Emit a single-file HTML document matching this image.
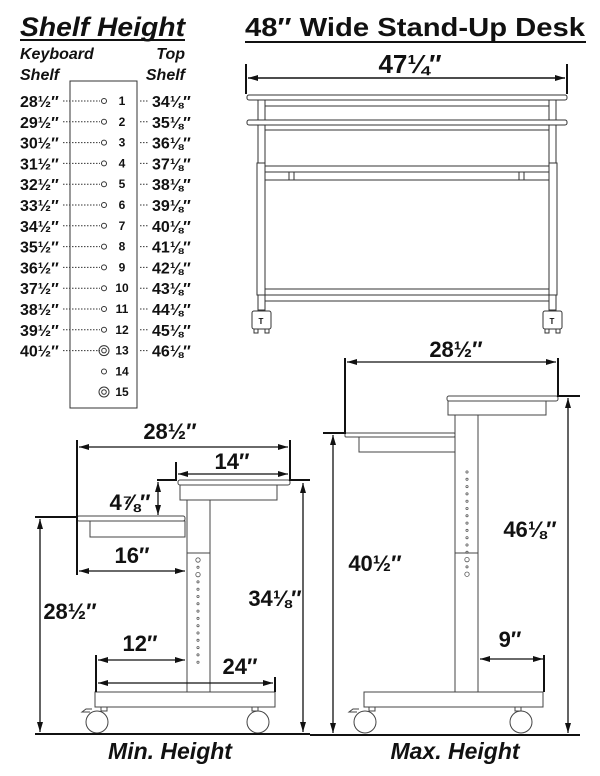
<!DOCTYPE html>
<html><head><meta charset="utf-8"><style>
body{margin:0;background:#fff}
svg{display:block}
text{font-family:"Liberation Sans",Arial,sans-serif;font-weight:bold;fill:#111}
</style></head><body>
<svg width="600" height="776" viewBox="0 0 600 776" xmlns="http://www.w3.org/2000/svg">
<defs>
<marker id="a" viewBox="0 0 10 6" refX="10" refY="3" markerWidth="10" markerHeight="6" orient="auto-start-reverse" markerUnits="userSpaceOnUse"><path d="M0,0L10,3L0,6z" fill="#111"/></marker>
</defs>
<g>
<text x="20" y="36" font-size="27" font-style="italic" textLength="165" lengthAdjust="spacingAndGlyphs">Shelf Height</text>
<line x1="20" y1="40" x2="185" y2="40" stroke="#111" stroke-width="2"/>
<text x="20" y="59" font-size="16" font-style="italic">Keyboard</text>
<text x="20" y="80" font-size="16" font-style="italic">Shelf</text>
<text x="185" y="59" font-size="16" font-style="italic" text-anchor="end">Top</text>
<text x="185" y="80" font-size="16" font-style="italic" text-anchor="end">Shelf</text>
<rect x="70" y="81" width="67" height="327" fill="none" stroke="#333" stroke-width="1"/>
</g>
<g font-size="16" id="rows"></g>
<g fill="none" stroke="#333" stroke-width="1">
<rect x="247" y="95" width="320" height="5" rx="2"/>
<rect x="247" y="120" width="320" height="5" rx="2"/>
<line x1="265" y1="106" x2="549" y2="106"/>
<line x1="265" y1="130" x2="549" y2="130"/>
<rect x="258" y="100" width="7" height="20"/><rect x="549" y="100" width="7" height="20"/>
<rect x="258" y="125" width="7" height="38"/><rect x="549" y="125" width="7" height="38"/>
<rect x="257" y="163" width="8" height="132"/><rect x="549" y="163" width="8" height="132"/>
<rect x="265" y="166" width="284" height="14"/>
<line x1="265" y1="172" x2="549" y2="172"/>
<rect x="289" y="172" width="5" height="8"/><rect x="519" y="172" width="5" height="8"/>
<rect x="265" y="289" width="284" height="12"/>
<line x1="265" y1="295" x2="549" y2="295"/>
<rect x="258" y="295" width="7" height="15"/><rect x="549" y="295" width="7" height="15"/>
<rect x="252" y="311" width="19" height="18" rx="2"/><rect x="543" y="311" width="19" height="18" rx="2"/>
<path d="M254,329v4h4v-4M265,329v4h4v-4M545,329v4h4v-4M556,329v4h4v-4"/>
</g>
<text x="261" y="324" font-size="8" text-anchor="middle">T</text>
<text x="552" y="324" font-size="8" text-anchor="middle">T</text>
<text x="245" y="36" font-size="26" textLength="340" lengthAdjust="spacingAndGlyphs">48″ Wide Stand-Up Desk</text>
<line x1="245" y1="42" x2="586" y2="42" stroke="#111" stroke-width="2"/>
<g stroke="#111" stroke-width="2" fill="none">
<line x1="246" y1="64" x2="246" y2="94"/><line x1="567" y1="64" x2="567" y2="94"/>
</g>
<line x1="248" y1="78" x2="565" y2="78" stroke="#111" stroke-width="1.5" marker-start="url(#a)" marker-end="url(#a)"/>
<text x="410" y="73" font-size="26" text-anchor="middle">47¼″</text>

<g fill="none" stroke="#444" stroke-width="1">
<rect x="178" y="480" width="112" height="5" rx="2"/>
<rect x="180" y="485" width="97" height="15"/>
<rect x="77" y="516" width="108" height="5" rx="2"/>
<rect x="90" y="521" width="95" height="16"/>
<rect x="187" y="500" width="23" height="53"/>
<rect x="187" y="553" width="23" height="139"/>
<rect x="95" y="692" width="180" height="15"/>
<circle cx="97" cy="722" r="11"/><circle cx="258" cy="722" r="11"/>
<path d="M90,712h-8l4,-3h6M101,707v4h6v-4M252,707v4h6v-4"/>
</g>
<g fill="none" stroke="#555" stroke-width="0.8" id="h1"></g>
<g stroke="#111" stroke-width="2" fill="none">
<path d="M77,440V575M290,440V480H310M176,462V480H157M77,517H35M96,655V692M275,677V692M35,734H310"/>
</g>
<g stroke="#111" stroke-width="1.3">
<line x1="79" y1="447" x2="288" y2="447" marker-start="url(#a)" marker-end="url(#a)"/>
<line x1="178" y1="474" x2="288" y2="474" marker-start="url(#a)" marker-end="url(#a)"/>
<line x1="158" y1="482" x2="158" y2="515" marker-start="url(#a)" marker-end="url(#a)"/>
<line x1="79" y1="571" x2="185" y2="571" marker-start="url(#a)" marker-end="url(#a)"/>
<line x1="40" y1="519" x2="40" y2="732" marker-start="url(#a)" marker-end="url(#a)"/>
<line x1="303" y1="483" x2="303" y2="732" marker-start="url(#a)" marker-end="url(#a)"/>
<line x1="98" y1="660" x2="185" y2="660" marker-start="url(#a)" marker-end="url(#a)"/>
<line x1="98" y1="683" x2="273" y2="683" marker-start="url(#a)" marker-end="url(#a)"/>
</g>
<g font-size="22" text-anchor="middle">
<text x="170" y="439">28½″</text>
<text x="232" y="469">14″</text>
<text x="130" y="510">4⅞″</text>
<text x="132" y="563">16″</text>
<text x="70" y="619">28½″</text>
<text x="275" y="606">34⅛″</text>
<text x="140" y="651">12″</text>
<text x="240" y="674">24″</text>
<text x="456" y="357">28½″</text>
<text x="375" y="571">40½″</text>
<text x="530" y="537">46⅛″</text>
<text x="510" y="647">9″</text>
</g>
<text x="170" y="759" font-size="23" font-style="italic" text-anchor="middle">Min. Height</text>
<text x="455" y="759" font-size="23" font-style="italic" text-anchor="middle">Max. Height</text>

<g fill="none" stroke="#444" stroke-width="1">
<rect x="447" y="396" width="111" height="5" rx="2"/>
<rect x="448" y="401" width="98" height="14"/>
<rect x="345" y="433" width="110" height="4" rx="1"/>
<rect x="359" y="437" width="96" height="15"/>
<rect x="455" y="415" width="23" height="138"/>
<rect x="455" y="553" width="23" height="139"/>
<rect x="364" y="692" width="179" height="15"/>
<circle cx="365" cy="722" r="11"/><circle cx="521" cy="722" r="11"/>
<path d="M357,712h-8l4,-3h6M369,707v4h6v-4M515,707v4h6v-4"/>
</g>
<g fill="none" stroke="#555" stroke-width="0.8" id="h2"></g>
<g stroke="#111" stroke-width="2" fill="none">
<path d="M345,358V433H323M558,358V396H580M544,655V692M310,735H580"/>
</g>
<g stroke="#111" stroke-width="1.3">
<line x1="347" y1="362" x2="556" y2="362" marker-start="url(#a)" marker-end="url(#a)"/>
<line x1="333" y1="435" x2="333" y2="733" marker-start="url(#a)" marker-end="url(#a)"/>
<line x1="568" y1="398" x2="568" y2="733" marker-start="url(#a)" marker-end="url(#a)"/>
<line x1="480" y1="659" x2="543" y2="659" marker-start="url(#a)" marker-end="url(#a)"/>
</g>
<script>
(function(){
var ns="http://www.w3.org/2000/svg",s=document.querySelector('svg');
function el(t,a,p,txt){var e=document.createElementNS(ns,t);for(var k in a)e.setAttribute(k,a[k]);if(txt)e.textContent=txt;(p||s).appendChild(e);return e;}
var rows=document.getElementById('rows');
for(var i=0;i<15;i++){
 var y=101+i*20.8; if(i>=13) y=351+(i-12)*20.5;
 if(i<13){
  el('text',{x:20,y:y+6,'font-size':16},rows,(28+i)+'½″');
  el('line',{x1:63,y1:y,x2:100,y2:y,stroke:'#333','stroke-width':1,'stroke-dasharray':'1.5,1.5'},rows);
  el('line',{x1:140,y1:y,x2:149,y2:y,stroke:'#333','stroke-width':1,'stroke-dasharray':'1.5,1.5'},rows);
  el('text',{x:152,y:y+6,'font-size':16},rows,(34+i)+'⅛″');
 }
 var big=(i==12||i==14);
 el('circle',{cx:104,cy:y,r:big?5:2.5,fill:'none',stroke:'#333','stroke-width':1},rows);
 if(big) el('circle',{cx:104,cy:y,r:2.3,fill:'none',stroke:'#333','stroke-width':1},rows);
 el('text',{x:122,y:y+4,'font-size':12,'text-anchor':'middle'},rows,String(i+1));
}
var h1=document.getElementById('h1');
for(var j=0;j<15;j++){var yy=560+j*7.3;var b=(j==0||j==2);el('circle',{cx:198,cy:yy,r:b?2.2:1.1},h1);}
var h2=document.getElementById('h2');
for(var j=0;j<15;j++){var yy=472+j*7.3;var b=(j==12||j==14);el('circle',{cx:467,cy:yy,r:b?2.2:1.1},h2);}
})();
</script>
</svg>
</body></html>
